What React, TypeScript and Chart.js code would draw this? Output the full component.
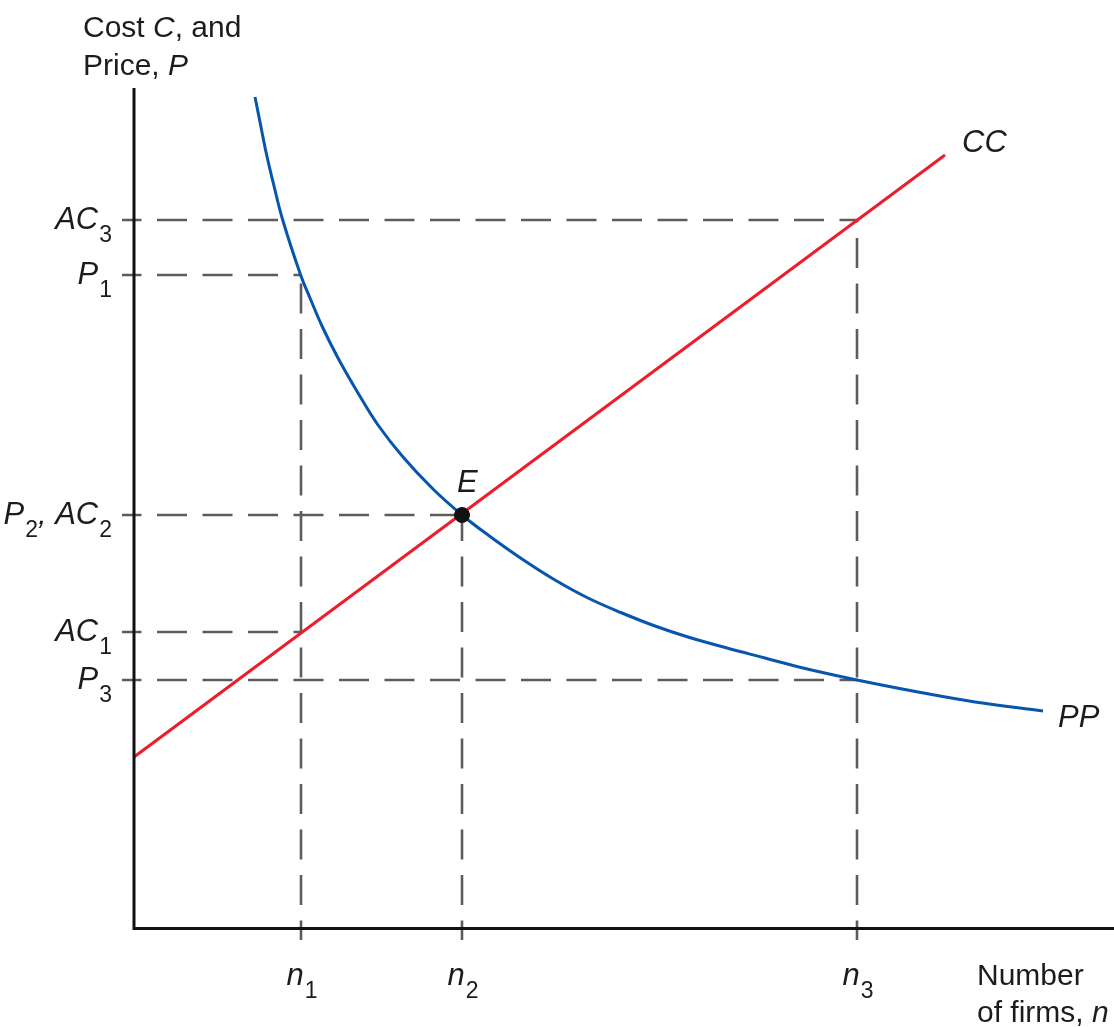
import React, { useEffect, useRef } from 'react';
import { Chart, registerables } from 'chart.js';

Chart.register(...registerables);

// PP curve (price): x = number of firms, y = price
const ppX = [12.1, 12.6, 13.2, 14.0, 14.9, 16.7, 17.6, 18.8, 20.4, 22.4, 24.4, 26.9, 29.9, 32.8, 35.4, 38.8, 42.1, 45.4, 48.8, 52.1, 55.4, 59.3, 63.1, 66.9, 72.3, 78.4, 84.1, 90.9];
const ppY = [83.0, 80.5, 77.5, 74.1, 70.6, 65.1, 62.9, 60.1, 56.9, 53.4, 50.2, 47.0, 43.8, 41.2, 39.2, 36.8, 34.7, 32.9, 31.4, 30.1, 29.0, 27.9, 26.9, 25.9, 24.7, 23.5, 22.5, 21.6];

// CC line (average cost)
const ccX = [0, 81.1];
const ccY = [17.0, 77.2];

// x-axis markers
const nValues = [16.7, 32.8, 72.3];
const nLabels: [string, string][] = [['n', '1'], ['n', '2'], ['n', '3']];
const nGuideTops = [65.2, 41.2, 70.7];

// y-axis markers
const priceLevels = [70.7, 65.2, 41.2, 29.5, 24.7];
const priceLabels: [string, string][][] = [
  [['AC', '3']],
  [['P', '1']],
  [['P', '2'], [', ', ''], ['AC', '2']],
  [['AC', '1']],
  [['P', '3']],
];
const priceGuideEnds = [72.3, 16.7, 32.8, 16.7, 72.3];

const equilibrium = { x: 32.8, y: 41.2 };

const X_MAX = 98;
const Y_MAX = 83.9;
const W = 1114;
const H = 1027;
const FONT = '"Liberation Sans", Arial, Helvetica, sans-serif';
const TEXT = '#1c1c1c';

function drawSegs(ctx: CanvasRenderingContext2D, segs: [string, string][], x: number, y: number, align: 'left' | 'right' | 'center') {
  const mainFont = `italic 31px ${FONT}`;
  const subFont = `23px ${FONT}`;
  const widths = segs.map(([m, s]) => {
    ctx.font = mainFont;
    const mw = ctx.measureText(m).width;
    ctx.font = subFont;
    const sw = s ? ctx.measureText(s).width + 1 : 0;
    return [mw, sw];
  });
  const total = widths.reduce((a, [m, s]) => a + m + s, 0);
  let cx = align === 'right' ? x - total : align === 'center' ? x - total / 2 : x;
  ctx.textAlign = 'left';
  ctx.textBaseline = 'alphabetic';
  segs.forEach(([m, s], i) => {
    ctx.font = mainFont;
    ctx.fillText(m, cx, y);
    cx += widths[i][0];
    if (s) {
      ctx.font = subFont;
      ctx.fillText(s, cx + 1, y + 13);
      cx += widths[i][1];
    }
  });
}

function drawRuns(ctx: CanvasRenderingContext2D, runs: [string, boolean][], x: number, y: number) {
  let cx = x;
  ctx.textAlign = 'left';
  ctx.textBaseline = 'alphabetic';
  runs.forEach(([t, it]) => {
    ctx.font = `${it ? 'italic ' : ''}30px ${FONT}`;
    ctx.fillText(t, cx, y);
    cx += ctx.measureText(t).width;
  });
}

const annotatePlugin = {
  id: 'annotate',
  afterDatasetsDraw(chart: any) {
    const ctx: CanvasRenderingContext2D = chart.ctx;
    const xs = chart.scales.x;
    const ys = chart.scales.y;
    const x0 = xs.getPixelForValue(0);
    const y0 = ys.getPixelForValue(0);
    ctx.save();
    // axes
    ctx.strokeStyle = '#111';
    ctx.lineWidth = 3;
    ctx.lineCap = 'butt';
    ctx.beginPath();
    ctx.moveTo(x0, ys.getPixelForValue(Y_MAX));
    ctx.lineTo(x0, y0 + 1.5);
    ctx.lineTo(xs.getPixelForValue(X_MAX), y0 + 1.5);
    ctx.stroke();

    ctx.fillStyle = TEXT;
    // y tick labels
    priceLevels.forEach((v, i) => {
      drawSegs(ctx, priceLabels[i], x0 - 22, ys.getPixelForValue(v) + 9, 'right');
    });
    // x tick labels
    nValues.forEach((v, i) => {
      drawSegs(ctx, [nLabels[i]], xs.getPixelForValue(v) + 1, y0 + 58, 'center');
    });
    // curve labels
    const ccEndX = xs.getPixelForValue(ccX[ccX.length - 1]);
    const ccEndY = ys.getPixelForValue(ccY[ccY.length - 1]);
    drawSegs(ctx, [['CC', '']], ccEndX + 17, ccEndY - 3, 'left');
    const ppEndX = xs.getPixelForValue(ppX[ppX.length - 1]);
    const ppEndY = ys.getPixelForValue(ppY[ppY.length - 1]);
    drawSegs(ctx, [['PP', '']], ppEndX + 15, ppEndY + 16, 'left');
    drawSegs(ctx, [['E', '']], xs.getPixelForValue(equilibrium.x) - 5, ys.getPixelForValue(equilibrium.y) - 23, 'left');

    // axis titles
    const top = ys.getPixelForValue(Y_MAX);
    drawRuns(ctx, [['Cost ', false], ['C', true], [', and', false]], x0 - 51, top - 51);
    drawRuns(ctx, [['Price, ', false], ['P', true]], x0 - 51, top - 13);
    drawRuns(ctx, [['Number', false]], x0 + 843, y0 + 58);
    drawRuns(ctx, [['of firms, ', false], ['n', true]], x0 + 843, y0 + 95);
    ctx.restore();
  },
};

export default function App() {
  const ref = useRef<HTMLCanvasElement | null>(null);

  useEffect(() => {
    if (!ref.current) return;
    document.documentElement.style.overflow = 'hidden';
    document.body.style.overflow = 'hidden';
    const guideStyle = {
      borderColor: '#5c5c5c',
      borderWidth: 2.6,
      borderDash: [30, 15.5],
      borderDashOffset: 10.5,
      pointRadius: 0,
      showLine: true,
      tension: 0,
      clip: false as any,
      order: 5,
    };
    const hGuides = priceLevels.map((v, i) => ({
      ...guideStyle,
      data: [{ x: -1.2, y: v }, { x: priceGuideEnds[i], y: v }],
    }));
    const vGuides = nValues.map((v, i) => ({
      ...guideStyle,
      data: [{ x: v, y: -1.3 }, { x: v, y: nGuideTops[i] }],
    }));

    const chart = new Chart(ref.current, {
      type: 'scatter',
      data: {
        datasets: [
          {
            data: [equilibrium],
            pointRadius: 7.5,
            pointBackgroundColor: '#111',
            pointBorderColor: '#111',
            showLine: false,
            clip: false as any,
            order: 0,
          },
          {
            data: ppX.map((x, i) => ({ x, y: ppY[i] })),
            borderColor: '#0656ad',
            borderWidth: 3,
            pointRadius: 0,
            showLine: true,
            tension: 0.4,
            clip: false as any,
            order: 1,
          },
          {
            data: ccX.map((x, i) => ({ x, y: ccY[i] })),
            borderColor: '#ee1d2b',
            borderWidth: 3,
            pointRadius: 0,
            showLine: true,
            tension: 0,
            clip: false as any,
            order: 2,
          },
          ...hGuides,
          ...vGuides,
        ] as any,
      },
      options: {
        animation: false,
        responsive: false,
        maintainAspectRatio: false,
        devicePixelRatio: 1,
        events: [],
        layout: { autoPadding: false, padding: { left: 134, top: 88, right: 0, bottom: 100 } },
        scales: {
          x: { type: 'linear', min: 0, max: X_MAX, display: false },
          y: { type: 'linear', min: 0, max: Y_MAX, display: false },
        },
        plugins: { legend: { display: false }, tooltip: { enabled: false } },
      },
      plugins: [annotatePlugin],
    });
    return () => chart.destroy();
  }, []);

  return (
    <div style={{ position: 'absolute', left: 0, top: 0, width: W, height: H, background: '#fff', overflow: 'hidden' }}>
      <canvas ref={ref} width={W} height={H} style={{ display: 'block', width: W, height: H }} />
    </div>
  );
}
